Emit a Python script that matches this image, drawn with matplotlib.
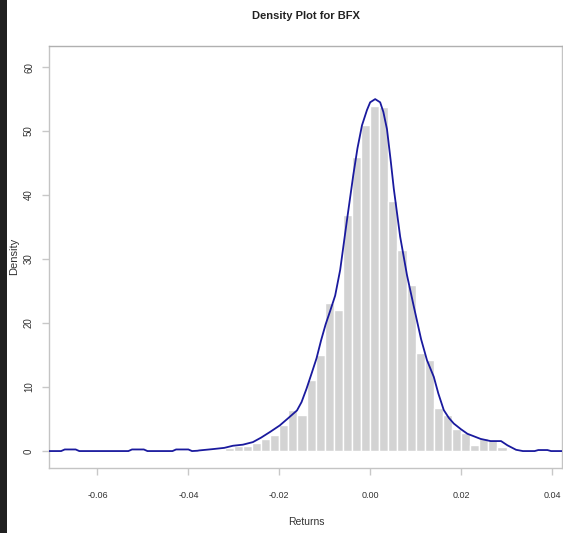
import numpy as np
import matplotlib
matplotlib.use("Agg")
import matplotlib.pyplot as plt
from matplotlib.patches import Rectangle

# histogram of BFX returns (density scale), bins of width 0.002
bin_left = [-0.032, -0.030, -0.028, -0.026, -0.024, -0.022, -0.020, -0.018,
            -0.016, -0.014, -0.012, -0.010, -0.008, -0.006, -0.004, -0.002,
            0.000, 0.002, 0.004, 0.006, 0.008, 0.010, 0.012, 0.014,
            0.016, 0.018, 0.020, 0.022, 0.024, 0.026, 0.028, 0.030]
bin_height = [0.5, 0.75, 0.75, 1.25, 1.9, 2.45, 4.0, 6.35,
              5.6, 11.1, 15.0, 23.2, 22.1, 36.9, 46.0, 51.0,
              54.0, 53.8, 39.0, 31.4, 26.0, 15.4, 14.2, 6.8,
              5.6, 3.4, 2.75, 0.95, 2.1, 1.7, 0.6, 0.2]

# kernel density estimate
kde_x = [-0.0706, -0.0680, -0.0672, -0.0648, -0.0640, -0.0532, -0.0524,
         -0.0498, -0.0490, -0.0435, -0.0427, -0.0400, -0.0392, -0.0380,
         -0.0376, -0.0347, -0.0321, -0.0302, -0.0280, -0.0258, -0.0240,
         -0.0220, -0.0199, -0.0181, -0.0161, -0.0151, -0.0140, -0.0129,
         -0.0118, -0.0108, -0.0098, -0.0088, -0.0077, -0.0066, -0.0052,
         -0.0037, -0.0028, -0.0018, -0.0007, 0.0000, 0.0011, 0.0022,
         0.0029, 0.0037, 0.0045, 0.0052, 0.0066,
         0.0081, 0.0096, 0.0112, 0.0125, 0.0140, 0.0150, 0.0162, 0.0173,
         0.0184, 0.0200, 0.0214, 0.0243, 0.0265, 0.0288, 0.0302, 0.0321,
         0.0336, 0.0362, 0.0370, 0.0390, 0.0398, 0.0421]
kde_y = [0.0, 0.0, 0.25, 0.25, 0.0, 0.0, 0.25,
         0.25, 0.0, 0.0, 0.25, 0.25, 0.0, 0.05,
         0.1, 0.3, 0.5, 0.83, 1.0, 1.4, 2.1,
         3.0, 4.0, 5.1, 6.35, 7.65, 9.75, 12.1,
         14.5, 17.3, 19.8, 21.9, 24.3, 28.3, 35.6,
         43.2, 47.3, 50.9, 53.3, 54.5, 55.0, 54.5,
         53.0, 50.3, 45.5, 41.0, 33.5,
         27.5, 22.6, 17.5, 14.2, 11.6, 9.0, 6.4, 5.2,
         4.3, 3.4, 2.7, 1.9, 1.56, 1.56, 0.9, 0.2,
         0.0, 0.0, 0.16, 0.16, 0.0, 0.0]

x_ticks = [-0.06, -0.04, -0.02, 0.00, 0.02, 0.04]
x_tick_labels = ["-0.06", "-0.04", "-0.02", "0.00", "0.02", "0.04"]
y_ticks = [0, 10, 20, 30, 40, 50, 60]

narrow = ["Liberation Sans Narrow", "Liberation Sans", "DejaVu Sans"]
W, H = 563, 533

fig = plt.figure(figsize=(W / 100, H / 100), dpi=100)
fig.patch.set_facecolor("white")
# dark strip at the left edge of the screenshot
fig.patches.append(Rectangle((0, 0), 7 / W, 1, transform=fig.transFigure,
                             facecolor="#202020", edgecolor="none", zorder=0))

ax = fig.add_axes([49.3 / W, 1 - 467.7 / H, (561.5 - 49.3) / W, (467.7 - 46) / H])

ax.bar(bin_left, bin_height, width=0.002, align="edge",
       color="#d3d3d3", edgecolor="white", linewidth=1.0, zorder=2)
ax.plot(kde_x, kde_y, color="#1a1a9e", linewidth=1.3, zorder=3,
        solid_joinstyle="round")

ax.set_xlim(-0.0706, 0.0421)
ax.set_ylim(-2.6, 63.3)

for s in ax.spines.values():
    s.set_color("#c4c4c4")
    s.set_linewidth(1.0)
ax.spines["top"].set_color("#b0b0b0")

ax.set_xticks(x_ticks)
ax.set_xticklabels(x_tick_labels, family=narrow, fontsize=6.5, color="#333333")
ax.set_yticks(y_ticks)
ax.set_yticklabels([str(v) for v in y_ticks], family=narrow, fontsize=7,
                   color="#333333", rotation=90, va="center")
ax.tick_params(axis="x", length=5, width=1, color="#c8c8c8", pad=12)
ax.tick_params(axis="y", length=5, width=1, color="#c8c8c8", pad=6)

fig.text(305.8 / W, 1 - 15.7 / H, "Density Plot for BFX", family=narrow,
         fontweight="bold", fontsize=8, ha="center", va="center", color="#222222")
fig.text(306 / W, 1 - 522 / H, "Returns", family=narrow, fontsize=7.5,
         ha="center", va="center", color="#333333")
fig.text(14 / W, 1 - 256 / H, "Density", family=["Liberation Sans", "DejaVu Sans"],
         fontsize=8, rotation=90, ha="center", va="center", color="#333333")

fig.savefig("out.png", dpi=100)
